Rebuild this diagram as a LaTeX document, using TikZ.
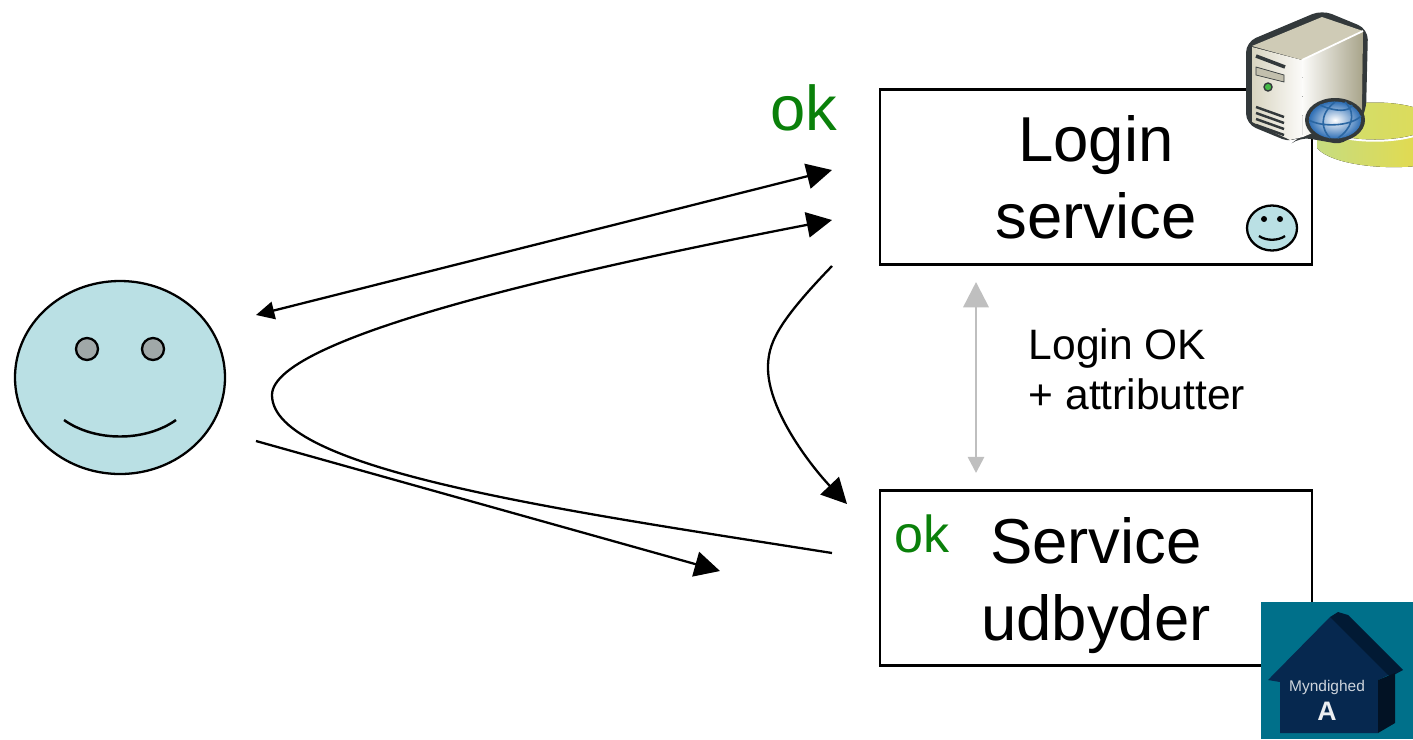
\documentclass[tikz,border=0pt]{standalone}
\usepackage{fontspec}
\setmainfont{Liberation Sans}
\usetikzlibrary{arrows.meta,shapes.geometric}
\definecolor{face}{HTML}{BAE0E4}
\definecolor{okgreen}{HTML}{0A800A}
\definecolor{eyegray}{HTML}{A0A8A8}
\definecolor{teal1}{HTML}{00708A}
\definecolor{navy1}{HTML}{06284F}
\definecolor{navy2}{HTML}{021A34}
\definecolor{srvline}{HTML}{33393B}
\definecolor{diskA}{HTML}{C6DC80}
\definecolor{diskB}{HTML}{E6DA48}
\definecolor{diskC}{HTML}{CFDD70}
\definecolor{diskD}{HTML}{DEDC58}
\definecolor{srvfront}{HTML}{D8D4C0}
\definecolor{srvside}{HTML}{A8A48A}
\definecolor{srvtop}{HTML}{CFCBB6}
\definecolor{globeblue}{HTML}{2F6FB5}
\definecolor{globeline}{HTML}{2A66A2}
\newlength{\pxu}\setlength{\pxu}{0.01cm}
\tikzset{
  fs/.style={font=\fontsize{#1}{#1}\selectfont},
  box/.style={draw=black,line width=0.65pt,fill=white,minimum width=432\pxu,minimum height=175\pxu,inner sep=0pt},
  title/.style={fs=18.05,align=center,inner sep=0pt},
  oklabel/.style={text=okgreen,inner sep=0pt},
  flow/.style={draw=black,line width=0.65pt,-{Triangle[length=7.2pt,width=7.2pt]}},
  twoway/.style={draw=black,line width=0.65pt,{Triangle[length=5.2pt,width=5pt]}-{Triangle[length=7.2pt,width=7.2pt]}},
  grayarrow/.style={draw=black!25,line width=0.75pt,{Triangle[length=7.2pt,width=7.2pt]}-{Triangle[length=4.6pt,width=4.6pt]}},
}
\begin{document}
\begin{tikzpicture}[x=0.01cm,y=-0.01cm]
\useasboundingbox (0,0) rectangle (1413,739);

% disk behind the server
\begin{scope}
\clip (1300,90) rectangle (1413,175);
\fill[left color=diskA,right color=diskB]
  (1317,121) -- (1317,148) .. controls (1330,164) and (1385,172) .. (1433,164) -- (1433,121) -- cycle;
\draw[white,line width=0.7pt,fill=white] (1375,122) ellipse[x radius=58,y radius=18.5];
\fill[left color=diskC,right color=diskD] (1375,121) ellipse[x radius=58,y radius=18.5];
\end{scope}

% boxes
\node[box] (login) at (1096,177) {};
\node[box] (service) at (1096,578) {};

% server icon
\fill[srvline,rounded corners=3pt] (1246,42) -- (1322,10) -- (1368,29) -- (1366,112) -- (1345,145) -- (1300,137) -- (1292,143) -- (1246,124) -- cycle;
\fill[left color=srvfront,right color=white!92!srvfront] (1252,47) -- (1302,60) -- (1303,137) -- (1290,140) -- (1252,122) -- cycle;
\fill[left color=white!92!srvfront,right color=srvside] (1302,60) -- (1363,31) -- (1362,112) -- (1303,137) -- cycle;
\fill[srvtop] (1252,46) -- (1322,17) -- (1363,31) -- (1302,60) -- cycle;
\draw[white,line width=0.5pt] (1302,60) -- (1363,31);
\draw[srvline,line width=1pt] (1256,56) -- (1285,67);
\fill[srvside!70!white,draw=srvline,line width=0.2pt] (1256,67) -- (1284,75) -- (1284,82) -- (1256,75) -- cycle;
\fill[green!45!gray,draw=srvline,line width=0.4pt] (1268,87) circle[radius=4];
\foreach \d in {0,6,12,18}{\draw[srvline,line width=0.7pt] (1256,107+\d) -- (1284,117+\d);}
\fill[srvline] (1335,120) ellipse[x radius=30,y radius=22];
\shade[inner color=white,outer color=globeblue] (1335,120) ellipse[x radius=26,y radius=18.5];
\draw[globeline,line width=0.45pt] (1309,120) .. controls (1320,127) and (1350,127) .. (1361,116)
  (1320,105) .. controls (1335,112) and (1350,112) .. (1352,105)
  (1335,102) .. controls (1318,115) and (1322,130) .. (1330,138)
  (1345,102) .. controls (1358,115) and (1350,130) .. (1338,138);

% house icon
\fill[teal1] (1261,602) rectangle (1413,739);
\fill[navy1] (1268,680) -- (1330,617) -- (1345,620) -- (1395,672) -- (1378,680) -- (1378,733) -- (1280,733) -- (1280,682) -- cycle;
\fill[navy2] (1330,617) -- (1338,612) -- (1348,615) -- (1403,670) -- (1390,677) -- cycle;
\fill[navy2!70!black] (1378,680) -- (1395,673) -- (1395,723) -- (1378,733) -- cycle;
\node[inner sep=0pt,text=white!80!navy1,fs=4.4] (myn) at (1327,687) {Myndighed};
\node[inner sep=0pt,text=white!92!navy1,fs=7.6] (myna) at (1327,711) {\bfseries A};

% small face
\node[ellipse,draw=black,line width=0.65pt,fill=face,minimum width=50\pxu,minimum height=45\pxu,inner sep=0pt] (smallface) at (1272,228) {};
\node[circle,fill=black,minimum size=6\pxu,inner sep=0pt] (se1) at (1264,219) {};
\node[circle,fill=black,minimum size=6\pxu,inner sep=0pt] (se2) at (1280,219) {};
\draw[line width=0.65pt] (1259,236) .. controls (1266,241) and (1278,241) .. (1285,236);

% big face
\node[ellipse,draw=black,line width=0.65pt,fill=face,minimum width=210\pxu,minimum height=193\pxu,inner sep=0pt] (user) at (120,377.5) {};
\node[circle,draw=black,line width=0.65pt,fill=eyegray,minimum size=22\pxu,inner sep=0pt] (eye1) at (87,349) {};
\node[circle,draw=black,line width=0.65pt,fill=eyegray,minimum size=22\pxu,inner sep=0pt] (eye2) at (153,349) {};
\draw[line width=0.7pt] (64,420) .. controls (95,442) and (145,442) .. (176,420);

% labels
\node[title,anchor=base] (l1) at (1096,161) {Login};
\node[title,anchor=base] (l2) at (1096,238) {service};
\node[title,anchor=base] (s1) at (1096,563) {Service};
\node[title,anchor=base] (s2) at (1096,640) {udbyder};
\node[oklabel,fs=18,anchor=base] (ok1) at (804,130) {ok};
\node[oklabel,fs=14.8,anchor=base] (ok2) at (922,552) {ok};
\node[inner sep=0pt,anchor=base west,fs=12.1] (a1) at (1028,359) {Login OK};
\node[inner sep=0pt,anchor=base west,fs=12.1] (a2) at (1028,409) {+ attributter};

% connector ends
\coordinate (u1) at (256,315);
\coordinate (lin1) at (832,170);
\coordinate (lin2) at (832,220);
\coordinate (lout) at (832,266);
\coordinate (sin) at (847,504);
\coordinate (sout) at (832,553);
\coordinate (u2) at (256,441);
\coordinate (free) at (720,571);
\coordinate (gtop) at (976,282);
\coordinate (gbot) at (976,473);

\draw[twoway] (u1) -- (lin1);
\draw[flow] (sout) .. controls (560,510) and (272,470) .. (272,395) .. controls (272,335) and (600,265) .. (lin2);
\draw[flow] (lout) .. controls (775,325) and (768,345) .. (768,368) .. controls (768,410) and (810,465) .. (sin);
\draw[flow] (u2) -- (free);
\draw[grayarrow] (gtop) -- (gbot);
\end{tikzpicture}
\end{document}
